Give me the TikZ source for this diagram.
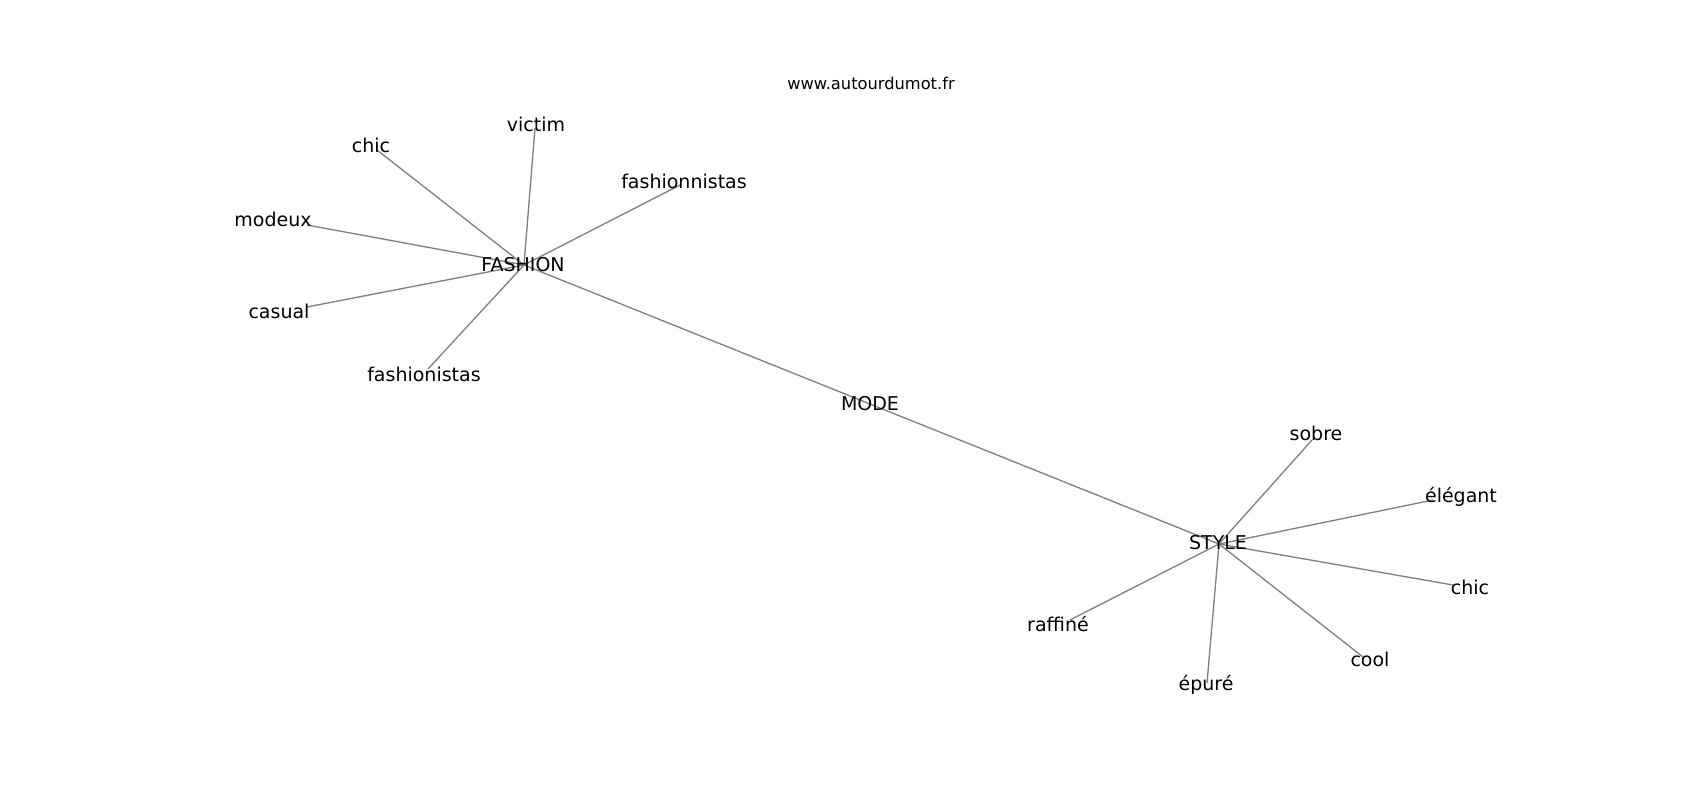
\documentclass[tikz,border=0pt]{standalone}
\usepackage{fontspec}
\setmainfont{DejaVu Sans}
\usepackage{tikz}

\begin{document}
\begin{tikzpicture}[x=0.75pt,y=-0.75pt]
        \tikzset{vertex/.style = {anchor=base,inner sep=0pt,font=\fontsize{14.25}{17}\selectfont}}
        \tikzset{edge/.style = {-,draw=gray,line width=1pt}}
        \useasboundingbox (0,0) rectangle (1700,800);

        \coordinate (fashion) at (524, 265);
        \coordinate (victim) at (535, 128);
        \coordinate (chic1) at (377, 150);
        \coordinate (fashionnistas) at (680, 185);
        \coordinate (modeux) at (307, 225);
        \coordinate (casual) at (307, 307);
        \coordinate (fashionistas) at (428, 369);
        \coordinate (mode) at (870, 404);
        \coordinate (style) at (1219, 544);
        \coordinate (sobre) at (1312, 440);
        \coordinate (elegant) at (1433, 500);
        \coordinate (chic2) at (1453, 585);
        \coordinate (raffine) at (1070, 620);
        \coordinate (cool) at (1363, 657);
        \coordinate (epure) at (1207, 683);

        \draw[edge] (fashion) to (victim);
        \draw[edge] (fashion) to (chic1);
        \draw[edge] (fashion) to (fashionnistas);
        \draw[edge] (fashion) to (modeux);
        \draw[edge] (fashion) to (casual);
        \draw[edge] (fashion) to (fashionistas);
        \draw[edge] (fashion) to (mode);
        \draw[edge] (mode) to (style);
        \draw[edge] (style) to (sobre);
        \draw[edge] (style) to (elegant);
        \draw[edge] (style) to (chic2);
        \draw[edge] (style) to (raffine);
        \draw[edge] (style) to (cool);
        \draw[edge] (style) to (epure);

        \node[vertex,font=\fontsize{12.2}{15}\selectfont] (site) at (871, 89) {www.autourdumot.fr};
        \node[vertex] (victim label) at (536, 131) {victim};
        \node[vertex] (chic1 label) at (371, 152) {chic};
        \node[vertex] (fashionnistas label) at (684, 188) {fashionnistas};
        \node[vertex] (modeux label) at (273, 226) {modeux};
        \node[vertex] (fashion label) at (523, 271) {FASHION};
        \node[vertex] (casual label) at (279, 318) {casual};
        \node[vertex] (fashionistas label) at (424, 381) {fashionistas};
        \node[vertex] (mode label) at (870, 410) {MODE};
        \node[vertex] (sobre label) at (1316, 440) {sobre};
        \node[vertex] (elegant label) at (1461, 502) {élégant};
        \node[vertex] (style label) at (1218, 549) {STYLE};
        \node[vertex] (chic2 label) at (1470, 594) {chic};
        \node[vertex] (raffine label) at (1058, 631) {raffiné};
        \node[vertex] (cool label) at (1370, 666) {cool};
        \node[vertex] (epure label) at (1206, 690) {épuré};
      \end{tikzpicture}
\end{document}
